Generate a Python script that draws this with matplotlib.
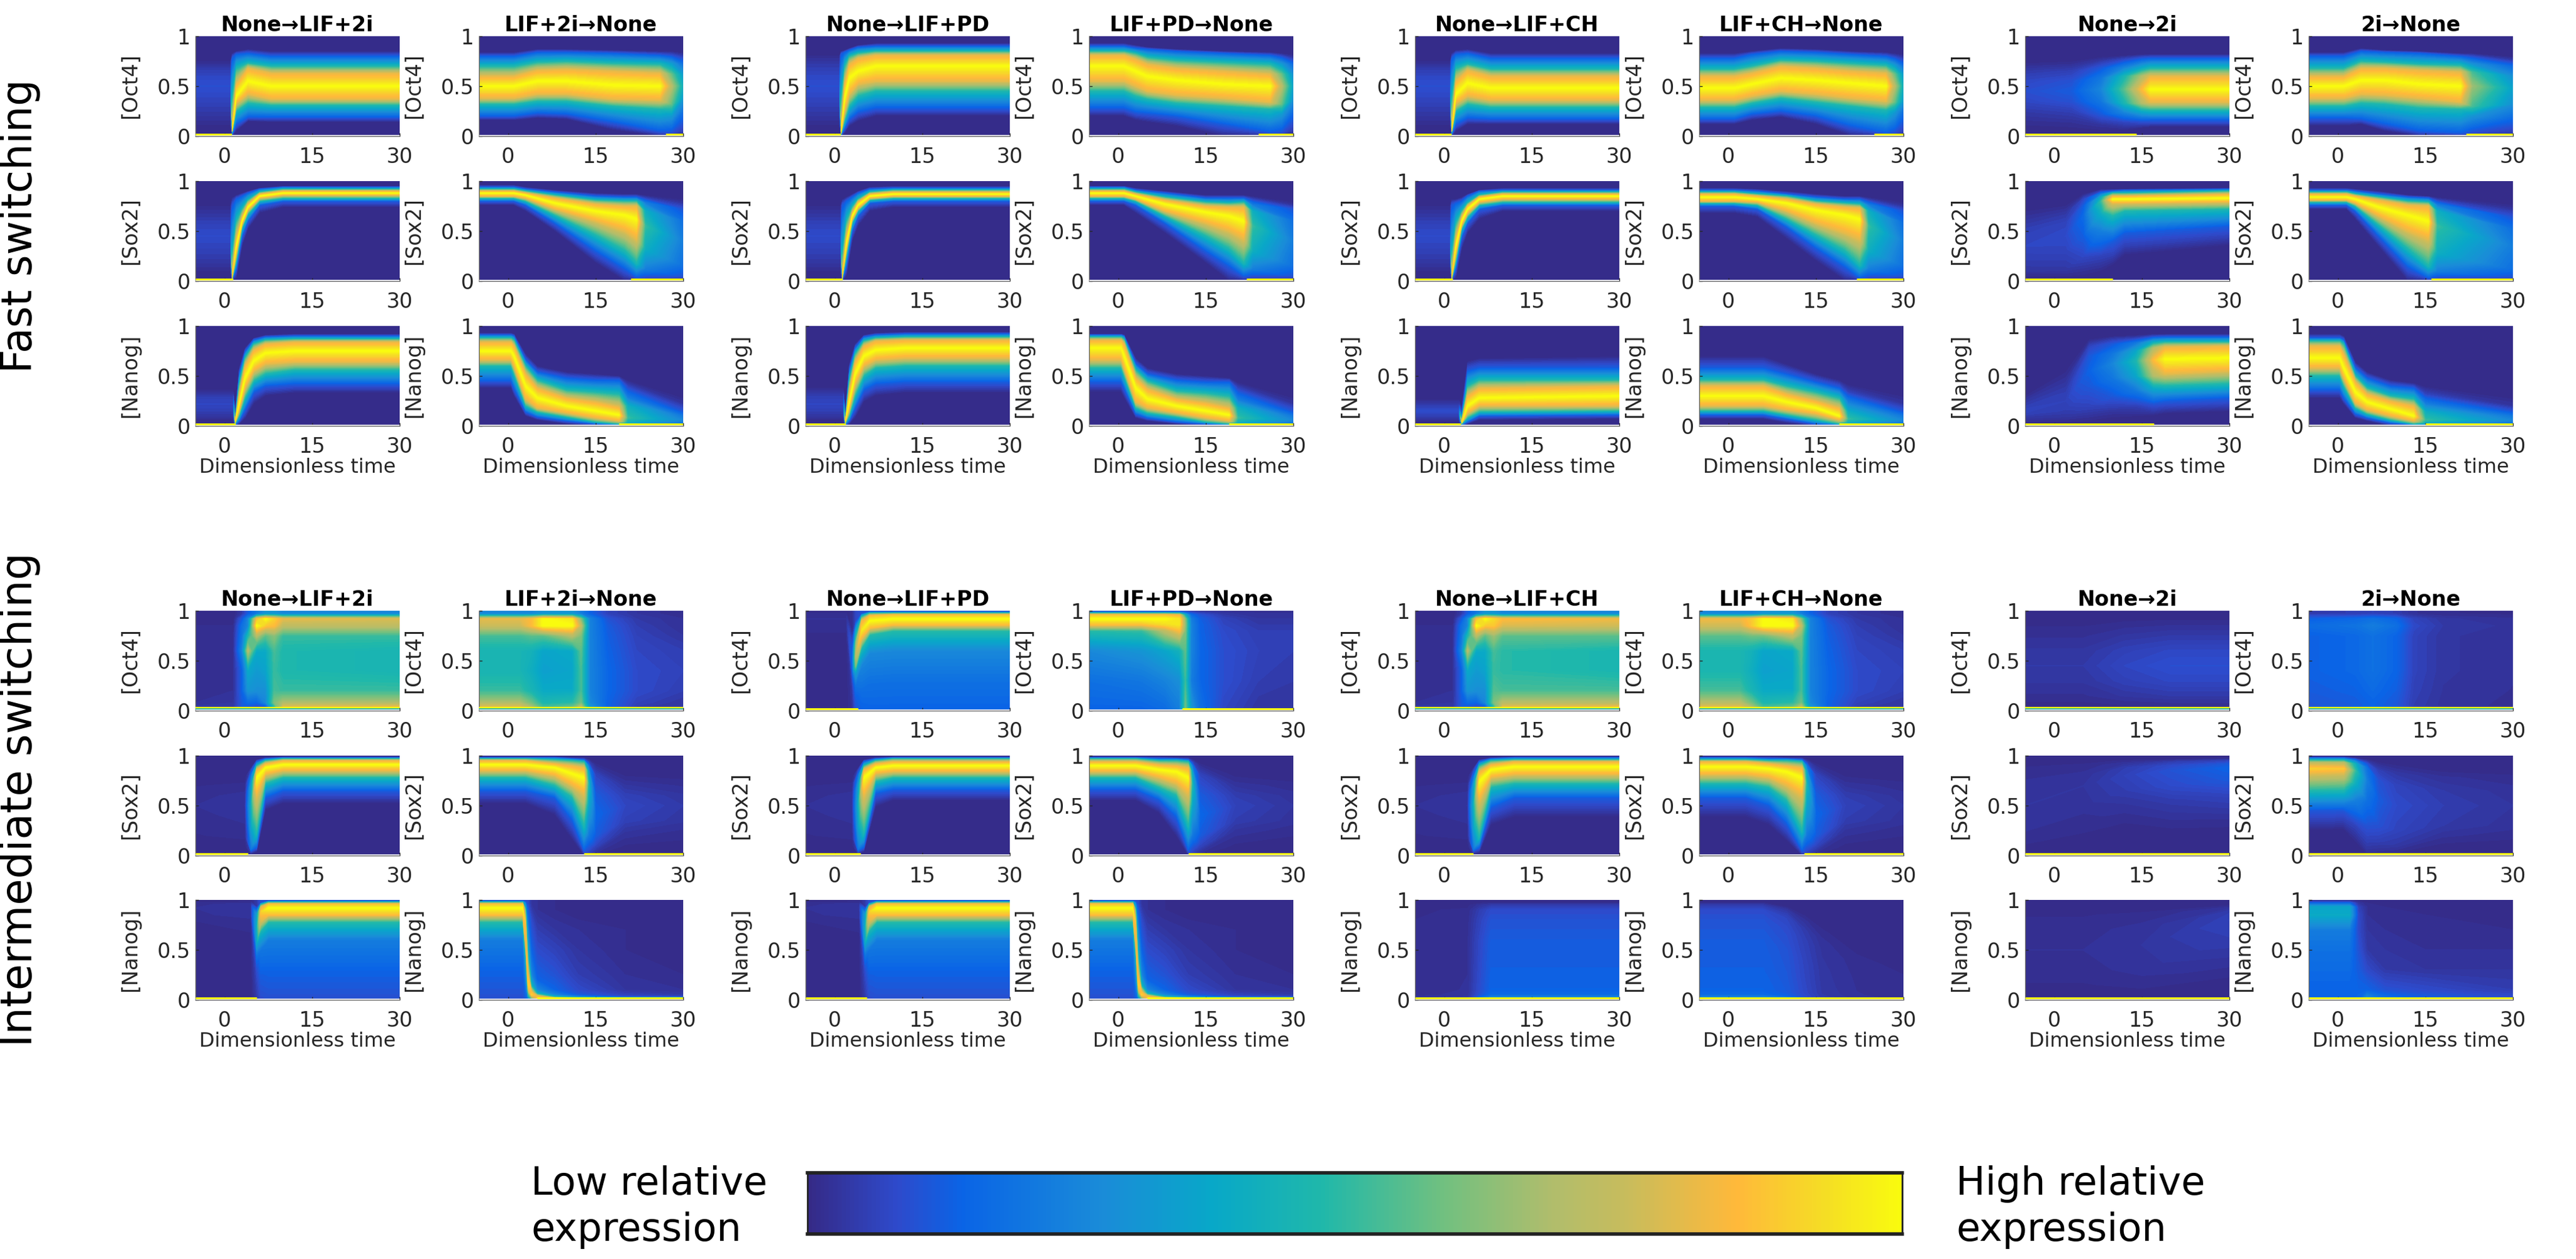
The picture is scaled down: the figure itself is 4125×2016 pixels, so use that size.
import numpy as np
import matplotlib
matplotlib.use('Agg')
import matplotlib.pyplot as plt
from matplotlib.colors import LinearSegmentedColormap, Normalize
from matplotlib.cm import ScalarMappable

# Panel data: _t time knots, _y contour heights (percent) at each knot, running
# low edge -> ridge -> high edge, _p ridge intensity, _c intensities if not C_BAND
C_BAND = [0, 12, 45, 80, 100, 80, 45, 12, 0]
C_PLAT = [9, 14, 22, 48, 85, 100, 85, 40, 10]
C_PLAT_PD = [14, 18, 26, 48, 85, 100, 85, 40, 10]

titles = ['None→LIF+2i', 'LIF+2i→None', 'None→LIF+PD', 'LIF+PD→None',
          'None→LIF+CH', 'LIF+CH→None', 'None→2i', '2i→None']
genes = ['oct4', 'sox2', 'nanog']
gene_labels = ['[Oct4]', '[Sox2]', '[Nanog]']

# ---- fast switching ----
f1_oct4_t = [-5, 1, 1.3, 2, 4, 8, 30]
f1_oct4_p = [9, 9, 95, 100, 100, 100, 100]
f1_oct4_y = [[3,12,25,40,50,60,68,74,82], [3,12,25,40,50,60,68,74,82], [0,2,4,5,7,12,40,78,83],
             [5,12,25,33,40,52,68,82,85], [15,19,33,42,55,68,73,83,87], [14,19,31,37,50,63,70,80,85],
             [14,19,31,37,50,63,70,80,85]]
f1_sox2_t = [-5, 1, 1.3, 2, 3, 4, 6, 10, 30]
f1_sox2_p = [8, 8, 90, 100, 100, 100, 100, 100, 100]
f1_sox2_y = [[3,10,20,35,45,55,65,75,82], [3,10,20,35,45,55,65,75,82], [0,1,2,3,5,10,30,75,84],
             [3,12,20,28,35,42,60,82,86], [35,45,53,57,60,64,72,85,88], [52,60,67,71,74,77,81,88,90],
             [68,76,80,83,85,87,89,92,93], [74,80,83,86,88,90,92,94,95], [74,80,83,86,88,90,92,94,95]]
f1_nanog_t = [-5, 1.5, 1.8, 2.5, 3.5, 5, 7, 12, 30]
f1_nanog_p = [7, 7, 95, 100, 100, 100, 100, 100, 100]
f1_nanog_y = [[3,6,10,16,22,28,32,36,40], [3,6,10,16,22,28,32,36,40], [0,1,2,3,4,5,7,10,14],
              [2,5,10,16,22,30,42,52,58], [7,16,28,38,48,60,68,74,78], [22,34,45,55,65,76,82,86,88],
              [30,40,52,62,73,82,86,89,91], [33,42,56,64,75,84,87,90,92], [33,42,56,64,75,84,87,90,92]]

f2_oct4_t = [-5, 1, 5, 10, 18, 26, 28, 30]
f2_oct4_p = [100, 100, 100, 100, 100, 100, 70, 40]
f2_oct4_y = [[16,20,32,38,50,60,70,80,84], [16,20,32,38,50,60,70,80,84], [18,23,35,42,55,66,74,84,87],
             [17,22,35,42,55,67,75,84,87], [6,14,30,37,51,65,73,83,86], [0,5,27,36,50,63,72,81,85],
             [0,3,20,32,50,62,73,81,85], [0,5,25,38,50,62,72,80,84]]
f2_sox2_t = [-5, 1, 3, 8, 15, 20, 22, 23.5, 30]
f2_sox2_p = [100, 100, 100, 100, 100, 100, 100, 50, 22]
f2_sox2_y = [[76,80,83,85,88,90,92,94,96], [76,80,83,85,88,90,92,94,96], [70,76,80,83,86,88,90,92,94],
             [50,58,66,72,78,83,86,89,91], [18,30,46,60,70,77,81,85,88], [0,12,30,50,66,75,80,84,87],
             [0,4,18,42,62,75,80,84,87], [0,2,12,32,55,70,78,83,86], [0,1,5,15,40,60,72,78,83]]
f2_nanog_t = [-5, 0.5, 1, 3, 5, 10, 15, 19, 20.5, 30]
f2_nanog_p = [100, 100, 100, 100, 100, 100, 100, 100, 50, 25]
f2_nanog_y = [[38,45,60,66,75,84,88,91,93], [38,45,60,66,75,84,88,91,93], [30,38,52,60,70,80,86,90,92],
              [10,14,20,27,40,52,60,66,72], [6,9,14,18,28,38,46,54,60], [2,5,9,13,20,28,36,48,54],
              [0,2,4,8,15,24,34,46,52], [0,1,2,5,11,19,32,46,50], [0,0,1,3,8,20,28,40,46],
              [0,1,2,3,6,10,14,22,30]]

f3_oct4_t = [-5, 0.8, 1.1, 1.7, 2.5, 4, 7, 30]
f3_oct4_p = [9, 9, 95, 100, 100, 100, 100, 100]
f3_oct4_y = [[3,12,25,40,50,60,72,80,86], [3,12,25,40,50,60,72,80,86], [0,1,2,3,5,10,40,82,85],
             [3,8,15,25,38,52,70,84,86], [10,17,30,42,58,72,80,86,88], [15,24,40,52,65,78,83,89,91],
             [20,28,45,55,70,81,85,90,93], [20,28,45,55,70,81,85,90,93]]
f3_sox2_t = [-5, 1, 1.3, 2, 3, 4, 6, 10, 30]
f3_sox2_p = [8, 8, 90, 100, 100, 100, 100, 100, 100]
f3_sox2_y = [[3,10,20,35,45,55,65,75,80], [3,10,20,35,45,55,65,75,80], [0,1,2,3,5,10,30,76,82],
             [5,15,25,32,38,44,60,80,84], [40,50,58,62,65,68,74,84,87], [55,65,70,73,76,79,82,88,90],
             [70,78,81,83,85,87,89,92,94], [74,80,83,85,87,89,91,93,95], [74,80,83,85,87,89,91,93,95]]
f3_nanog_t = [-5, 1.5, 1.8, 2.5, 3.5, 5, 7, 12, 30]
f3_nanog_p = [7, 7, 95, 100, 100, 100, 100, 100, 100]
f3_nanog_y = [[3,6,10,16,22,28,34,38,42], [3,6,10,16,22,28,34,38,42], [0,1,2,3,4,5,7,10,14],
              [2,5,10,17,24,34,46,56,62], [8,18,30,42,52,64,72,78,82], [24,36,50,60,70,80,85,89,91],
              [30,42,58,66,76,85,88,91,93], [33,44,60,68,78,86,89,92,94], [33,44,60,68,78,86,89,92,94]]

f4_oct4_t = [-5, 1, 3, 5, 10, 18, 26, 28, 30]
f4_oct4_p = [100, 100, 100, 100, 100, 100, 100, 70, 35]
f4_oct4_y = [[20,28,45,55,70,81,85,90,93], [20,28,45,55,70,81,85,90,93], [16,24,40,50,65,77,83,88,91],
             [14,23,37,45,60,72,79,87,89], [10,20,33,41,56,68,76,85,87], [0,12,30,38,52,65,74,83,85],
             [0,4,27,34,50,62,72,81,84], [0,3,22,32,50,62,72,80,83], [0,6,24,36,50,62,72,78,82]]
f4_sox2_t = [-5, 1, 3, 8, 15, 19, 21.5, 23, 30]
f4_sox2_p = [100, 100, 100, 100, 100, 100, 100, 50, 22]
f4_sox2_y = [[76,80,83,85,88,90,92,94,95], [76,80,83,85,88,90,92,94,95], [68,76,80,82,85,87,89,91,93],
             [48,58,65,70,77,81,84,88,90], [18,30,45,58,69,75,79,83,86], [0,15,32,50,65,74,78,83,86],
             [0,5,18,42,60,74,79,83,86], [0,3,12,30,55,70,76,82,85], [0,1,5,15,40,60,72,76,80]]
f4_nanog_t = [-5, 0.5, 1, 3, 5, 10, 15, 19, 20.5, 30]
f4_nanog_p = [100, 100, 100, 100, 100, 100, 100, 100, 50, 25]
f4_nanog_y = [[34,44,58,66,78,86,89,91,92], [34,44,58,66,78,86,89,91,92], [28,38,50,58,70,82,87,90,91],
              [8,12,18,24,38,48,56,62,68], [5,8,13,18,27,37,45,52,58], [2,4,9,13,20,27,35,46,52],
              [0,2,4,8,15,23,33,44,50], [0,1,2,5,11,18,30,44,48], [0,0,1,3,8,18,26,38,44],
              [0,1,2,3,6,10,14,22,30]]

f5_oct4_t = [-5, 1, 1.3, 2, 4, 8, 30]
f5_oct4_p = [9, 9, 95, 100, 100, 100, 100]
f5_oct4_y = [[3,12,25,40,50,60,68,74,82], [3,12,25,40,50,60,68,74,82], [0,2,4,5,7,12,40,78,83],
             [5,12,25,33,42,55,68,82,86], [12,18,32,40,53,66,72,83,87], [12,17,29,36,48,60,67,78,83],
             [12,17,29,36,48,60,67,78,83]]
f5_sox2_t = [-5, 1, 1.3, 2, 3, 4, 6, 10, 30]
f5_sox2_p = [8, 8, 90, 100, 100, 100, 100, 100, 100]
f5_sox2_y = [[3,10,20,35,45,55,65,75,80], [3,10,20,35,45,55,65,75,80], [0,1,2,3,5,10,30,76,82],
             [3,13,20,28,35,42,58,78,82], [32,44,52,56,60,64,70,80,84], [48,58,64,68,72,75,78,85,87],
             [62,72,76,79,82,84,86,90,91], [70,76,79,82,85,87,89,91,93], [70,76,79,82,85,87,89,91,93]]
f5_nanog_t = [-5, 2.5, 3, 4, 6, 30]
f5_nanog_p = [8, 8, 95, 100, 100, 100]
f5_nanog_y = [[3,5,8,12,15,18,22,26,30], [3,5,8,12,15,18,22,26,30], [0,1,2,3,3,5,8,12,20],
              [2,4,8,13,20,30,40,55,65], [6,10,14,20,28,38,46,58,68], [7,11,15,20,30,40,46,58,70]]

f6_oct4_t = [-5, 1, 4, 9, 15, 21, 27, 28.5, 30]
f6_oct4_p = [100, 100, 100, 100, 100, 100, 100, 70, 40]
f6_oct4_y = [[12,17,29,36,48,60,67,78,83], [12,17,29,36,48,60,67,78,83], [16,22,33,40,52,63,70,82,85],
             [19,25,38,45,58,70,76,85,88], [12,20,34,42,56,68,75,84,87], [0,10,30,38,53,65,73,82,85],
             [0,3,26,35,50,63,71,80,84], [0,3,24,34,50,62,71,79,83], [0,4,25,35,50,62,70,78,82]]
f6_sox2_t = [-5, 1, 5, 10, 15, 20, 22.5, 24, 30]
f6_sox2_p = [100, 100, 100, 100, 100, 100, 100, 50, 22]
f6_sox2_y = [[68,75,78,80,84,87,89,91,93], [68,75,78,80,84,87,89,91,93], [64,72,76,79,82,85,87,90,92],
             [42,54,62,70,78,82,85,87,90], [20,33,46,58,71,77,80,84,87], [0,14,30,48,66,74,78,82,85],
             [0,3,16,42,62,73,77,82,85], [0,2,12,30,55,70,76,81,84], [0,1,5,15,40,58,70,75,80]]
f6_nanog_t = [-5, 6, 10, 15, 19, 20.5, 30]
f6_nanog_p = [100, 100, 100, 100, 100, 50, 25]
f6_nanog_y = [[7,11,15,20,30,40,46,58,70], [7,11,15,20,30,40,46,58,70], [3,7,11,16,24,32,40,52,62],
              [0,2,6,12,18,25,34,44,52], [0,1,2,6,10,18,28,38,46], [0,0,1,3,7,14,24,34,42],
              [0,0,1,3,6,10,14,22,32]]

f7_oct4_t = [-5, 3, 8, 12, 15, 16.5, 30]
f7_oct4_p = [9, 12, 25, 55, 85, 100, 100]
f7_oct4_y = [[3,12,25,35,45,55,65,72,80], [3,12,25,35,45,55,65,73,77], [4,12,22,35,47,58,68,76,80],
             [5,14,24,33,47,60,68,77,81], [8,15,25,33,47,60,68,78,82], [9,16,26,34,47,60,68,78,82],
             [9,16,26,34,47,60,68,78,82]]
f7_sox2_t = [-5, 2, 5, 8, 10, 12, 30]
f7_sox2_p = [7, 8, 16, 50, 100, 100, 100]
f7_sox2_y = [[2,5,10,25,35,50,60,70,78], [2,5,12,30,45,58,68,75,80], [3,10,25,45,65,75,82,86,88],
             [8,25,50,68,80,84,87,90,92], [15,40,65,78,82,85,88,90,92], [25,48,70,78,82,85,88,91,92],
             [35,55,72,79,83,87,90,92,93]]
f7_nanog_t = [-5, 2, 6, 10, 14, 17, 19, 30]
f7_nanog_p = [7, 6, 14, 25, 45, 85, 100, 100]
f7_nanog_y = [[2,4,8,12,15,18,25,30,35], [2,4,8,15,25,35,45,55,62], [3,8,20,40,55,70,80,85,88],
              [6,15,30,48,62,72,82,88,90], [8,20,35,50,65,75,83,88,91], [10,22,38,50,66,78,84,89,92],
              [12,25,40,52,67,79,84,89,92], [14,28,42,55,68,80,84,89,92]]

f8_oct4_t = [-5, 1, 4, 8, 14, 21, 23, 30]
f8_oct4_p = [100, 100, 100, 100, 100, 100, 65, 35]
f8_oct4_y = [[10,18,30,38,50,60,68,80,84], [10,18,30,38,50,60,68,80,84], [12,17,33,42,56,68,75,85,88],
             [5,12,32,41,56,68,74,84,86], [0,5,28,38,52,66,72,83,85], [0,3,27,34,50,64,71,80,83],
             [0,3,20,30,50,64,72,80,83], [0,3,18,32,48,60,70,76,80]]
f8_sox2_t = [-5, 1.5, 3, 7, 12, 15.5, 17, 30]
f8_sox2_p = [100, 100, 100, 100, 100, 100, 50, 22]
f8_sox2_y = [[72,76,79,81,84,87,89,91,93], [72,76,79,81,84,87,89,91,93], [62,70,75,78,82,85,87,90,92],
             [34,45,56,65,74,81,84,87,90], [0,14,32,50,66,76,80,84,86], [0,3,15,42,60,75,79,83,85],
             [0,2,10,28,55,70,76,81,84], [0,1,4,12,35,52,64,72,78]]
f8_nanog_t = [-5, 0.3, 1, 3, 5, 9, 13, 15, 30]
f8_nanog_p = [100, 100, 100, 100, 100, 100, 100, 50, 25]
f8_nanog_y = [[28,36,50,58,68,80,85,88,92], [28,36,50,58,68,80,85,88,92], [22,28,40,48,58,72,82,86,90],
              [8,12,18,23,34,44,50,58,64], [5,8,12,16,24,32,38,48,54], [0,3,6,10,17,25,30,40,46],
              [0,1,2,5,10,20,27,38,43], [0,0,1,3,6,14,22,32,40], [0,0,1,3,6,10,14,20,30]]

# ---- intermediate switching ----
i1_oct4_t = [-5, 1.5, 3, 4, 5.5, 7, 8.5, 10, 30]
i1_oct4_y = [[2,8,20,40,60,75,85,92,97]] * 9
i1_oct4_c = [[4,2,1,1,1,1,1,0,0], [4,3,2,2,2,2,1,0,0], [12,12,14,14,25,20,18,12,4],
             [8,16,30,37,70,45,25,25,12], [5,14,28,32,38,70,100,85,20], [3,25,28,35,38,55,88,100,30],
             [40,60,52,50,52,62,85,90,30], [85,68,50,46,46,50,72,80,25], [88,68,50,44,44,50,72,78,25]]
i1_sox2_t = [-5, 3.5, 4.5, 5.5, 7, 10, 30]
i1_sox2_p = [2, 3, 40, 100, 100, 100, 100]
i1_sox2_y = [[3,10,20,40,50,60,70,78,82], [3,10,20,40,50,60,70,78,82], [1,3,6,25,50,70,80,86,88],
             [4,8,22,60,78,86,90,94,96], [45,58,72,81,88,92,95,97,98], [52,65,78,85,91,95,97,98,99],
             [52,65,78,85,91,95,97,98,99]]
i1_nanog_t = [-5, 4.5, 5.5, 6.2, 7.5, 30]
i1_nanog_p = [2, 3, 40, 90, 100, 100]
i1_nanog_c = C_PLAT
i1_nanog_y = [[0,30,60,78,85,92,96,98,99], [0,30,60,78,85,92,96,98,99], [0,15,30,45,55,70,85,90,93],
              [0,25,50,68,78,88,93,96,97], [0,30,60,78,85,92,96,98,99], [0,30,60,78,85,92,96,98,99]]

i2_oct4_t = [-5, 2, 4, 6, 11, 12.5, 14, 17, 22, 30]
i2_oct4_y = [[2,8,20,40,60,75,85,92,97]] * 10
i2_oct4_c = [[85,68,50,44,44,52,75,80,25], [85,68,50,44,44,52,75,80,25], [72,58,44,40,42,55,85,85,25],
             [55,45,38,34,36,55,100,100,30], [62,48,38,36,38,70,100,95,30], [78,58,52,52,55,60,72,60,22],
             [34,26,24,24,24,24,24,24,14], [14,14,15,15,14,13,12,10,6], [4,6,8,8,7,6,5,4,3],
             [3,3,5,6,5,3,2,2,1]]
i2_sox2_t = [-5, 3, 8, 11, 13, 13.8, 15, 20, 30]
i2_sox2_p = [100, 100, 100, 100, 100, 45, 15, 7, 4]
i2_sox2_y = [[52,65,78,85,91,95,97,98,99], [52,65,78,85,91,95,97,98,99], [40,58,70,80,88,92,96,98,99],
             [15,35,58,70,82,90,95,97,98], [0,5,30,62,78,88,94,96,98], [0,2,20,50,72,84,90,94,97],
             [0,2,10,20,40,60,80,90,94], [2,10,25,35,50,60,70,80,90], [2,10,25,35,50,60,70,80,90]]
i2_nanog_t = [-5, 2.5, 3, 3.4, 4, 5, 8, 12, 20, 30]
i2_nanog_y = [[0,30,60,78,85,92,96,98,99], [0,30,60,78,85,92,96,98,99], [0,15,30,45,55,75,90,97,99],
              [1,3,8,15,25,45,70,90,97], [0,2,5,8,14,25,50,80,95], [0,2,4,6,10,20,40,70,90],
              [0,2,3,5,10,25,50,70,90], [0,2,3,5,10,25,50,70,90], [0,2,3,5,10,25,50,70,90],
              [0,2,3,5,10,25,50,70,90]]
i2_nanog_c = [[9,14,22,48,85,100,85,40,10], [9,14,22,48,85,100,85,40,10], [12,20,30,45,80,85,50,20,8],
              [18,35,60,90,85,45,25,14,8], [30,60,90,85,45,25,14,8,3], [60,90,80,45,25,14,10,5,2],
              [55,75,45,25,14,10,6,3,1], [60,60,25,12,8,5,3,2,0], [55,50,10,6,3,2,1,1,0],
              [55,50,8,4,2,1,0,0,0]]

i3_oct4_t = [-5, 2, 3, 3.6, 4.6, 6, 10, 30]
i3_oct4_p = [2, 2, 15, 70, 95, 100, 100, 100]
i3_oct4_c = C_PLAT_PD
i3_oct4_y = [[0,30,60,78,85,92,96,98,99], [0,30,60,78,85,92,96,98,99], [0,10,20,30,38,48,60,72,80],
             [0,12,25,38,45,55,68,82,90], [0,20,45,62,72,80,90,95,97], [0,28,58,76,83,90,95,98,99],
             [0,30,60,80,86,92,96,98,99], [0,30,60,80,86,92,96,98,99]]
i3_sox2_t = [-5, 3, 4, 5, 7, 10, 30]
i3_sox2_p = [2, 3, 40, 100, 100, 100, 100]
i3_sox2_y = [[3,10,20,40,50,60,70,78,82], [3,10,20,40,50,60,70,78,82], [1,3,6,25,50,70,80,86,88],
             [4,8,22,60,78,86,90,94,96], [48,62,74,82,88,92,95,97,98], [55,66,78,84,90,94,97,98,99],
             [55,66,78,84,90,94,97,98,99]]
i3_nanog_t = [-5, 4.2, 5.2, 5.9, 7.2, 30]
i3_nanog_p = [2, 3, 40, 90, 100, 100]
i3_nanog_c = C_PLAT
i3_nanog_y = [[0,30,60,78,85,92,96,98,99], [0,30,60,78,85,92,96,98,99], [0,15,30,45,55,70,85,90,93],
              [0,25,50,68,78,88,93,96,97], [0,30,60,78,85,92,96,98,99], [0,30,60,78,85,92,96,98,99]]

i4_oct4_t = [-5, 4, 8, 10.5, 11.5, 12.5, 14, 18, 24, 30]
i4_oct4_y = [[0,30,60,80,86,92,96,98,99]] * 10
i4_oct4_c = [[14,18,26,48,85,100,85,40,10], [14,20,30,50,85,100,85,40,10], [16,24,36,72,92,100,85,40,10],
             [22,28,42,85,95,95,80,35,10], [58,50,55,60,62,60,40,18,8], [32,22,24,24,24,22,16,10,5],
             [18,15,15,14,14,13,10,6,3], [7,9,9,8,7,6,4,3,2], [3,5,6,5,4,3,2,2,1], [3,4,5,5,4,3,2,2,1]]
i4_sox2_t = [-5, 3, 7, 10, 12, 12.7, 14, 20, 30]
i4_sox2_p = [100, 100, 100, 100, 100, 45, 15, 6, 3]
i4_sox2_y = [[55,66,78,84,90,94,97,98,99], [55,66,78,84,90,94,97,98,99], [42,56,68,78,86,91,95,97,99],
             [18,38,60,72,84,90,95,97,98], [0,5,30,62,78,88,94,96,98], [0,2,20,50,72,84,90,94,97],
             [0,2,10,20,40,60,80,90,94], [2,10,25,35,50,60,70,80,90], [2,10,25,35,50,60,70,80,90]]
i4_nanog_t = [-5, 2.5, 3, 3.4, 4, 5, 8, 12, 20, 30]
i4_nanog_y = [[0,30,60,78,85,92,96,98,99], [0,30,60,78,85,92,96,98,99], [0,15,30,45,55,75,90,97,99],
              [1,3,8,15,25,45,70,90,97], [0,2,5,8,14,25,50,80,95], [0,2,4,6,10,20,40,70,90],
              [0,2,3,5,10,25,50,70,90], [0,2,3,5,10,25,50,70,90], [0,2,3,5,10,25,50,70,90],
              [0,2,3,5,10,25,50,70,90]]
i4_nanog_c = [[9,14,22,48,85,100,85,40,10], [9,14,22,48,85,100,85,40,10], [12,20,30,45,80,85,50,20,8],
              [18,35,60,90,85,45,25,14,8], [30,60,90,85,45,25,14,8,3], [60,90,80,45,25,14,10,5,2],
              [55,75,45,25,14,10,6,3,1], [60,60,25,12,8,5,3,2,0], [55,50,10,6,3,2,1,1,0],
              [55,50,8,4,2,1,0,0,0]]

i5_oct4_t = [-5, 1.5, 3, 4, 5.5, 7, 8.5, 10, 30]
i5_oct4_y = [[2,8,20,40,60,75,85,92,97]] * 9
i5_oct4_c = [[4,2,1,1,1,1,1,0,0], [4,3,2,2,2,2,1,0,0], [12,12,14,14,25,20,18,12,4],
             [8,16,30,37,70,45,25,25,12], [5,14,28,32,38,70,100,85,20], [3,25,28,35,38,55,88,100,30],
             [40,60,54,50,52,65,88,92,30], [85,70,52,48,48,55,78,85,25], [88,70,52,45,45,55,76,82,25]]
i5_sox2_t = [-5, 4, 5, 6, 8, 12, 30]
i5_sox2_p = [2, 3, 40, 100, 100, 100, 100]
i5_sox2_y = [[3,10,20,40,50,60,70,78,82], [3,10,20,40,50,60,70,78,82], [1,3,6,25,50,70,78,86,88],
             [3,8,18,55,74,84,90,94,96], [30,48,68,78,86,91,95,97,98], [38,58,72,81,89,94,96,98,99],
             [38,58,72,81,89,94,96,98,99]]
i5_nanog_t = [-5, 4, 6, 8, 30]
i5_nanog_p = [10, 15, 60, 100, 100]
i5_nanog_c = [35, 16, 14, 13, 12, 10, 8, 4, 0]
i5_nanog_y = [[0,5,10,30,60,80,90,95,98]] * 5

i6_oct4_t = [-5, 2, 4, 6, 11, 12.5, 14, 17, 22, 30]
i6_oct4_y = [[2,8,20,40,60,75,85,92,97]] * 10
i6_oct4_c = [[85,70,52,45,45,55,76,82,25], [85,70,52,45,45,55,76,82,25], [72,58,44,40,42,58,88,88,25],
             [55,45,38,34,36,58,100,100,30], [62,48,38,36,38,72,100,95,30], [78,58,52,52,55,60,72,60,22],
             [34,26,24,24,24,24,24,24,14], [14,14,15,15,14,13,12,10,6], [4,6,8,8,7,6,5,4,3],
             [3,3,5,6,5,3,2,2,1]]
i6_sox2_t = [-5, 3, 7, 10, 12.6, 13.4, 15, 20, 30]
i6_sox2_p = [100, 100, 100, 100, 100, 45, 15, 6, 3]
i6_sox2_y = [[38,58,72,81,89,94,96,98,99], [38,58,72,81,89,94,96,98,99], [30,50,68,78,87,92,95,97,99],
             [14,32,55,70,84,90,95,97,98], [0,5,25,60,78,88,94,96,98], [0,2,20,50,72,84,90,94,97],
             [0,2,10,20,40,60,80,90,94], [2,10,25,35,50,60,70,80,90], [2,10,25,35,50,60,70,80,90]]
i6_nanog_t = [-5, 6, 10, 13, 16, 22, 30]
i6_nanog_p = [100, 100, 85, 55, 28, 15, 10]
i6_nanog_c = [35, 16, 14, 13, 12, 10, 8, 4, 0]
i6_nanog_y = [[0,5,10,30,60,80,90,95,98], [0,5,10,30,60,80,90,95,98], [0,4,8,24,48,70,82,90,94],
              [0,3,7,19,38,60,70,80,88], [0,3,6,15,30,50,60,70,80], [0,2,5,10,20,35,42,52,62],
              [0,2,4,8,15,25,30,40,50]]

i7_oct4_t = [-5, 5, 12, 20, 30]
i7_oct4_p = [4, 4, 7, 9, 9]
i7_oct4_y = [[0,5,15,30,45,60,75,90,97]] * 5
i7_sox2_t = [-5, 5, 12, 20, 30]
i7_sox2_p = [3, 3, 6, 10, 14]
i7_sox2_y = [[0,5,15,30,50,70,85,95,98], [0,10,30,50,70,80,90,95,98], [10,30,50,65,80,88,92,96,98],
             [15,30,55,70,85,90,94,96,98], [20,35,60,75,88,92,95,97,99]]
i7_nanog_t = [-5, 5, 15, 30]
i7_nanog_p = [2, 2, 3, 6]
i7_nanog_y = [[0,5,15,30,50,70,85,92,97], [0,5,15,30,50,70,85,92,97], [0,5,15,30,55,72,85,92,97],
              [5,20,40,60,80,88,92,95,98]]

i8_oct4_t = [-5, 3, 6, 10, 13, 18, 30]
i8_oct4_p = [75, 85, 100, 80, 35, 18, 12]
i8_oct4_c = [25, 14, 16, 18, 18, 18, 22, 18, 6]
i8_oct4_y = [[0,5,20,40,60,75,85,92,97]] * 7
i8_sox2_t = [-5, 1, 3, 5, 7, 10, 18, 30]
i8_sox2_p = [90, 88, 50, 22, 12, 8, 5, 3]
i8_sox2_y = [[25,45,62,78,87,93,96,98,99], [25,45,62,78,87,93,96,98,99], [12,30,55,72,85,92,95,97,98],
             [0,5,30,55,75,88,92,95,97], [0,3,15,30,55,75,85,92,95], [0,3,10,25,50,70,82,90,94],
             [2,10,20,30,50,65,78,85,90], [2,10,20,30,50,65,78,85,90]]
i8_nanog_t = [-5, 2, 3.5, 5, 8, 15, 30]
i8_nanog_y = [[0,10,30,50,70,85,93,97,99]] * 7
i8_nanog_c = [[14,14,16,18,22,38,36,14,3], [14,14,16,18,22,38,36,14,3], [16,14,12,10,8,8,6,3,1],
              [30,14,8,4,3,2,2,1,0], [20,10,4,3,2,1,1,0,0], [14,8,3,2,1,1,0,0,0], [10,5,3,2,1,0,0,0,0]]

# yellow strip along y=0, (start, end) per column
f_oct4_strip = [(-5,1.2), (27,30), (-5,1), (24,30), (-5,1.2), (25,30), (-5,14), (22,30)]
f_sox2_strip = [(-5,1.4), (21,30), (-5,1.3), (22,30), (-5,1.4), (22,30), (-5,10), (16,30)]
f_nanog_strip = [(-5,1.8), (19,30), (-5,1.8), (19,30), (-5,2.8), (19,30), (-5,17), (15,30)]
i_oct4_strip = [(-5,30), (-5,30), (-5,4), (11,30), (-5,30), (-5,30), (-5,30), (-5,30)]
i_sox2_strip = [(-5,4), (13,30), (-5,4.4), (12,30), (-5,5), (13,30), (-5,30), (-5,30)]
i_nanog_strip = [(-5,5.5), (5,30), (-5,5.5), (5,30), (-5,30), (-5,30), (-5,30), (-5,30)]
i_oct4_teal = [0, 1, 4, 5, 6, 7]

# pixel positions in the 4125x2016 picture
W, H = 4125, 2016
col_left = [313, 767, 1290, 1744, 2266, 2721, 3243, 3697]
panel_w = 327
row_top = {'f': [58, 290, 522], 'i': [978, 1210, 1441]}
panel_h = 160

cmap_pos = [0, 0.08, 0.14, 0.27, 0.37, 0.47, 0.58, 0.68, 0.75, 0.85, 0.93, 1]
cmap_col = ['#352A87', '#2E4ACB', '#0A64E6', '#1A8CD8', '#08A8C8', '#20B8AA',
            '#70C080', '#B0BD6C', '#C8BC5C', '#FFB93A', '#F5DD25', '#F9FB0E']
parula = LinearSegmentedColormap.from_list('parula_like', list(zip(cmap_pos, cmap_col)), N=256)
levels = np.linspace(0, 100.5, 102)

plt.rcParams['font.family'] = 'DejaVu Sans'
plt.rcParams['text.color'] = '#262626'
TXT = '#262626'


def px_axes(fig, x0, y0, w, h):
    return fig.add_axes([x0 / W, 1 - (y0 + h) / H, w / W, h / H])


def draw_panel(ax, name):
    t = np.array(globals()[name + '_t'], dtype=float)
    y = np.array(globals()[name + '_y'], dtype=float).T
    p = globals().get(name + '_p')
    c = globals().get(name + '_c', C_BAND)
    c = np.array(c, dtype=float)
    if c.ndim == 1:
        c = np.outer(c, p) / 100.0
    else:
        c = c.T
    y = np.vstack([np.zeros(len(t)), y, np.full(len(t), 100.0)])
    c = np.vstack([c[0], c, c[-1]])
    T = np.tile(t, (y.shape[0], 1))
    ax.contourf(T, y / 100.0, c, levels=levels, cmap=parula, vmin=0, vmax=100)


fig = plt.figure(figsize=(W / 100, H / 100), dpi=100)

for block in ['f', 'i']:
    for r, gene in enumerate(genes):
        strips = globals()[block + '_' + gene + '_strip']
        for col in range(8):
            ax = px_axes(fig, col_left[col], row_top[block][r], panel_w, panel_h)
            ax.set_facecolor('#352A87')
            draw_panel(ax, block + str(col + 1) + '_' + gene)
            ax.set_xlim(-5, 30)
            ax.set_ylim(0, 1)
            ax.plot([-5, 30], [0.004, 0.004], color='#E8E8F0', lw=2.2, solid_capstyle='butt', zorder=3)
            s = strips[col]
            if block == 'i' and gene == 'oct4' and col in i_oct4_teal:
                ax.plot([-5, 30], [0.016, 0.016], color='#30B8A0', lw=1.6, solid_capstyle='butt', zorder=3)
                ax.plot(s, [0.03, 0.03], color='#F9FB0E', lw=1.6, solid_capstyle='butt', zorder=3)
            else:
                ax.plot(s, [0.018, 0.018], color='#F9FB0E', lw=2.2, solid_capstyle='butt', zorder=3)
            ax.set_xticks([0, 15, 30])
            ax.set_yticks([0, 0.5, 1])
            ax.set_yticklabels(['0', '0.5', '1'])
            ax.tick_params(direction='in', length=3.5, width=1, colors=TXT, labelsize=24, pad=6)
            ax.tick_params(axis='x', pad=12)
            for side in ['top', 'right']:
                ax.spines[side].set_visible(False)
            for side in ['left', 'bottom']:
                ax.spines[side].set_linewidth(1)
                ax.spines[side].set_color('#606060')
            ax.set_ylabel(gene_labels[r], fontsize=24, color=TXT)
            ax.yaxis.set_label_coords(-88 / panel_w, 0.5)
            if r == 0:
                ax.set_title(titles[col], fontsize=24, fontweight='bold', color='black', pad=6)
            if r == 2:
                ax.set_xlabel('Dimensionless time', fontsize=23, color=TXT)
                ax.xaxis.set_label_coords(0.5, -51 / panel_h, transform=ax.transAxes)

fig.text(32 / W, 1 - 362 / H, 'Fast switching', rotation=90, fontsize=48, color='black',
         ha='center', va='center')
fig.text(32 / W, 1 - 1280 / H, 'Intermediate switching', rotation=90, fontsize=49.5, color='black',
         ha='center', va='center')

cax = px_axes(fig, 1293, 1878, 1753, 98)
cb = fig.colorbar(ScalarMappable(norm=Normalize(0, 1), cmap=parula), cax=cax, orientation='horizontal')
cb.set_ticks([])
cb.outline.set_visible(False)
for side, lw in [('top', 4), ('bottom', 4), ('left', 2), ('right', 2)]:
    cax.spines[side].set_visible(True)
    cax.spines[side].set_linewidth(lw)
    cax.spines[side].set_color('#222222')
    cax.spines[side].set_zorder(10)

fig.text(850 / W, 1 - 1933 / H, 'Low relative\nexpression', fontsize=45, color='black',
         ha='left', va='center', linespacing=1.3)
fig.text(3132 / W, 1 - 1933 / H, 'High relative\nexpression', fontsize=45, color='black',
         ha='left', va='center', linespacing=1.3)

plt.savefig('out.png', dpi=100)
